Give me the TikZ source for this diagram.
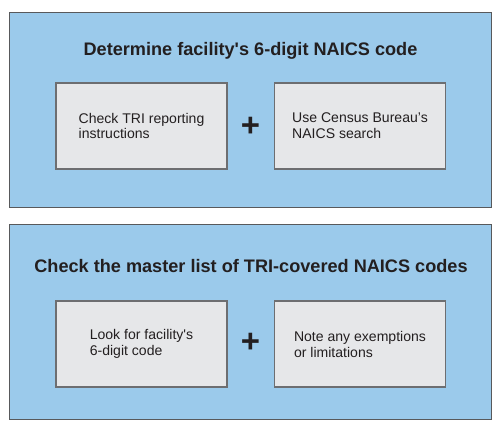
\documentclass[tikz,border=0pt]{standalone}
\usepackage{fontspec}
\setmainfont{Liberation Sans}
\usepackage{xcolor}
\usepackage{tikz}
\usetikzlibrary{positioning}

\definecolor{panelblue}{RGB}{155,202,235}
\definecolor{paneledge}{RGB}{88,89,91}
\definecolor{boxgray}{RGB}{230,231,233}
\definecolor{boxedge}{RGB}{109,110,113}
\definecolor{inkdark}{RGB}{35,31,32}

\begin{document}
\begin{tikzpicture}[x=1bp, y=-1bp,
    panel/.style={draw=paneledge, line width=1bp, fill=panelblue, minimum width=481bp, minimum height=195bp, inner sep=0pt},
    paneltitle/.style={anchor=base, text=inkdark, font=\fontsize{18.2}{21}\selectfont\bfseries},
    stepbox/.style={draw=boxedge, line width=1.3bp, fill=boxgray, minimum width=171bp, minimum height=86bp, align=left, text=inkdark, font=\fontsize{14.1}{16}\selectfont},
    plussign/.style={text=inkdark, font=\fontsize{33}{33}\selectfont\bfseries, inner sep=0pt}]
  \useasboundingbox (0,0) rectangle (502,430);

  % Panels
  \node[panel] (panelA) at (250.5,109.5) {};
  \node[panel] (panelB) at (250.5,321.5) {};

  % Titles
  \node[paneltitle] (titleA) at (250.5,55) {Determine facility\textquotesingle s 6-digit NAICS code};
  \node[paneltitle] (titleB) at (251,272.7) {Check the master list of TRI-covered NAICS codes};

  % First step
  \node[stepbox] (checkTRI) at (141.5,126) {Check TRI reporting\\instructions};
  \node[stepbox] (useCensus) at (360,126) {Use Census Bureau’s\\NAICS search};
  \node[plussign] (plusA) at (250.5,126.5) {+};

  % Second step
  \node[stepbox] (lookFor) at (141.5,344) {Look for facility\textquotesingle s\\6-digit code};
  \node[stepbox] (noteAny) at (360,344) {Note any exemptions\\or limitations};
  \node[plussign] (plusB) at (250.5,343) {+};

\end{tikzpicture}
\end{document}
